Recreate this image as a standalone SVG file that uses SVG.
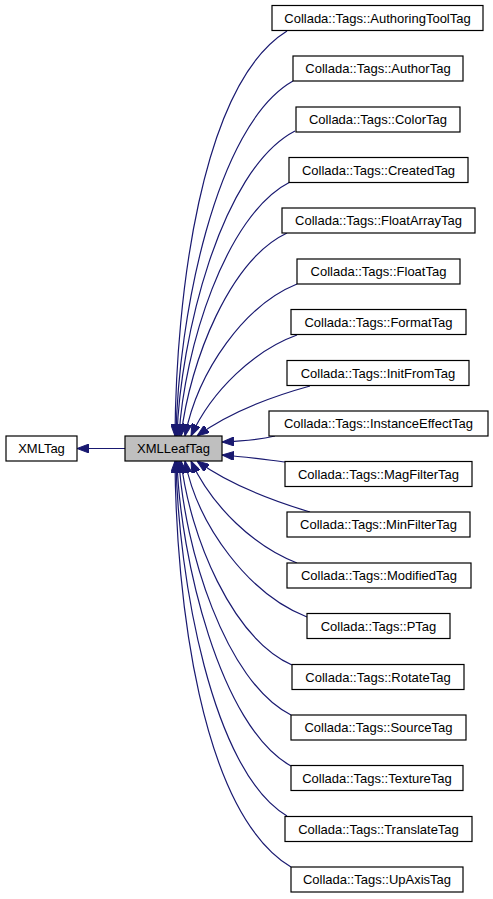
<svg xmlns="http://www.w3.org/2000/svg" width="493" height="899" viewBox="0 0 493 899">
<style>
.n rect{fill:#ffffff;stroke:#000000;stroke-width:1.2}
#XMLLeafTag rect{fill:#bfbfbf}
text{font-family:"Liberation Sans",Arial,sans-serif;font-size:13px;fill:#000000;text-anchor:middle}
.e path{fill:none;stroke:#191970;stroke-width:1.2;marker-end:url(#ah)}
</style>
<defs>
<marker id="ah" markerUnits="userSpaceOnUse" viewBox="0 0 12 9" refX="12" refY="4.5" markerWidth="12" markerHeight="9" orient="auto">
<path d="M0,0 L12,4.5 L0,9 Z" fill="#191970" stroke="#191970" stroke-width="1"/>
</marker>
</defs>
<rect width="493" height="899" fill="#ffffff"/>
<g class="e" id="connectors">
<path d="M125,448.5 L77,448.5"/>
<path d="M287,31 C200,85 176,300 175,436"/>
<path d="M293,81 C215,125 178,320 176,436"/>
<path d="M295,131 C220,170 180,340 177,436"/>
<path d="M290,182 C225,215 184,350 179,436"/>
<path d="M287,233 C230,260 190,360 181,436"/>
<path d="M297,284 C245,305 198,370 185,436"/>
<path d="M297,335 C255,350 212,390 191,436"/>
<path d="M310,386 C270,397 230,412 197,436"/>
<path d="M275,436 C262,439 245,441 222,442"/>
<path d="M285,462 C268,460 248,457 222,455"/>
<path d="M310,512 C270,500 230,485 197,461"/>
<path d="M297,563 C255,547 212,507 191,461"/>
<path d="M307,617 C250,595 198,527 185,461"/>
<path d="M292,665 C232,638 190,537 181,461"/>
<path d="M291,715 C225,682 184,547 179,461"/>
<path d="M291,766 C220,727 180,557 177,461"/>
<path d="M287,816 C212,772 178,577 176,461"/>
<path d="M291,867 C200,812 176,597 175,461"/>
</g>
<g class="n" id="XMLTag"><rect x="6" y="436" width="71" height="25"/><text x="41.5" y="453">XMLTag</text></g>
<g class="n" id="XMLLeafTag"><rect x="125" y="436" width="97" height="25"/><text x="173.5" y="453">XMLLeafTag</text></g>
<g class="n" id="AuthoringToolTag"><rect x="272" y="5.5" width="211" height="25"/><text x="377.5" y="22.5">Collada::Tags::AuthoringToolTag</text></g>
<g class="n" id="AuthorTag"><rect x="293" y="56" width="170" height="25"/><text x="378" y="73">Collada::Tags::AuthorTag</text></g>
<g class="n" id="ColorTag"><rect x="296" y="107" width="164" height="25"/><text x="378" y="124">Collada::Tags::ColorTag</text></g>
<g class="n" id="CreatedTag"><rect x="289" y="157.5" width="179" height="25"/><text x="378.5" y="174.5">Collada::Tags::CreatedTag</text></g>
<g class="n" id="FloatArrayTag"><rect x="282" y="208" width="193" height="25"/><text x="378.5" y="225">Collada::Tags::FloatArrayTag</text></g>
<g class="n" id="FloatTag"><rect x="297" y="259" width="163" height="25"/><text x="378.5" y="276">Collada::Tags::FloatTag</text></g>
<g class="n" id="FormatTag"><rect x="291" y="309.5" width="175" height="25"/><text x="378.5" y="326.5">Collada::Tags::FormatTag</text></g>
<g class="n" id="InitFromTag"><rect x="287" y="360.5" width="182" height="25"/><text x="378" y="377.5">Collada::Tags::InitFromTag</text></g>
<g class="n" id="InstanceEffectTag"><rect x="269" y="411" width="219" height="25"/><text x="378.5" y="428">Collada::Tags::InstanceEffectTag</text></g>
<g class="n" id="MagFilterTag"><rect x="285" y="461.5" width="187" height="25"/><text x="378.5" y="478.5">Collada::Tags::MagFilterTag</text></g>
<g class="n" id="MinFilterTag"><rect x="287" y="512" width="183" height="25"/><text x="378.5" y="529">Collada::Tags::MinFilterTag</text></g>
<g class="n" id="ModifiedTag"><rect x="287" y="563" width="184" height="25"/><text x="379" y="580">Collada::Tags::ModifiedTag</text></g>
<g class="n" id="PTag"><rect x="307" y="613.5" width="143" height="25"/><text x="378.5" y="630.5">Collada::Tags::PTag</text></g>
<g class="n" id="RotateTag"><rect x="292" y="664.5" width="172" height="25"/><text x="378" y="681.5">Collada::Tags::RotateTag</text></g>
<g class="n" id="SourceTag"><rect x="291" y="715" width="175" height="25"/><text x="378.5" y="732">Collada::Tags::SourceTag</text></g>
<g class="n" id="TextureTag"><rect x="291" y="765.5" width="172" height="25"/><text x="377" y="782.5">Collada::Tags::TextureTag</text></g>
<g class="n" id="TranslateTag"><rect x="285" y="816.5" width="187" height="25"/><text x="378.5" y="833.5">Collada::Tags::TranslateTag</text></g>
<g class="n" id="UpAxisTag"><rect x="291" y="867" width="172" height="25"/><text x="377" y="884">Collada::Tags::UpAxisTag</text></g>
</svg>
